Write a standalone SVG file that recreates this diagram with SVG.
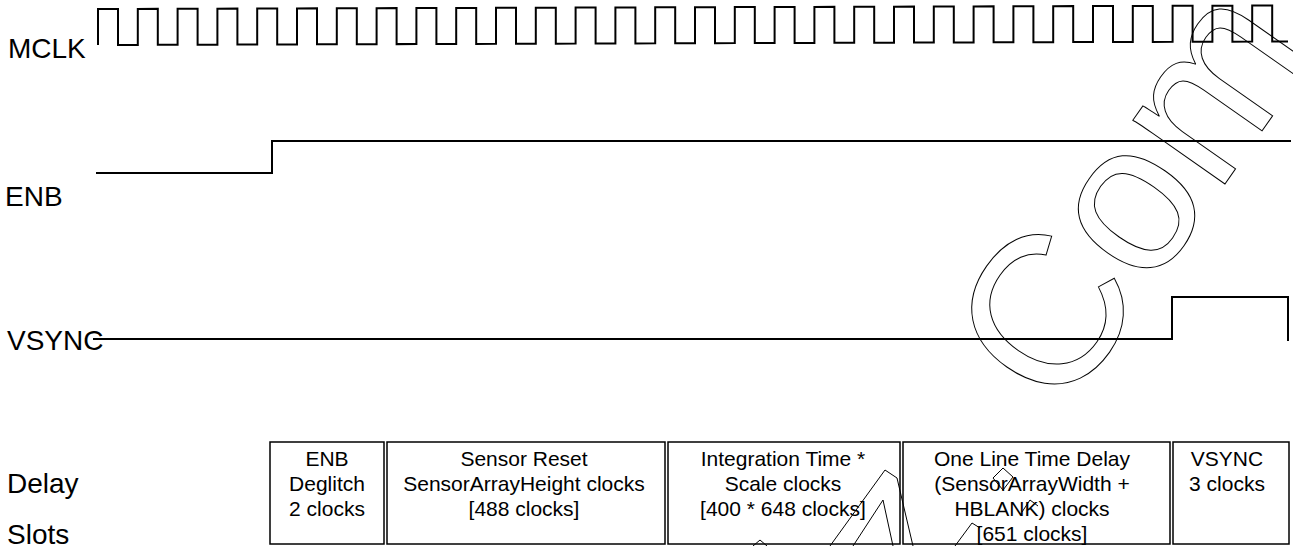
<svg xmlns="http://www.w3.org/2000/svg" width="1293" height="546" viewBox="0 0 1293 546">
<style>
.lbl{font-family:"Liberation Sans",Arial,sans-serif;font-size:28px;fill:#000}
.cell{font-family:"Liberation Sans",Arial,sans-serif;font-size:21px;fill:#000;text-anchor:middle}
.sig{fill:none;stroke:#000;stroke-width:2}
.box{fill:none;stroke:#000;stroke-width:1.5}
.wm{font-family:"Liberation Sans",Arial,sans-serif;fill:none;stroke:#000;stroke-width:1}
.frag{fill:none;stroke:#000;stroke-width:1;stroke-linejoin:miter}
</style>
<rect width="1293" height="546" fill="#fff"/>
<g id="watermark">
<text class="wm" font-size="212" transform="translate(1061,418) rotate(-55)">Com</text>
<polyline class="frag" points="753,546 760,540 767,546"/>
<polyline class="frag" points="830,546 885,470 897,478 913,546"/>
<polyline class="frag" points="853,546 883,500 893,546"/>
<polygon class="frag" points="993,478 1003,468 1013,477 1003,490"/>
<polyline class="frag" points="955,546 972,523 980,528"/>
<polyline class="frag" points="1022,512 1030,500 1038,506"/>
</g>
<g id="labels">
<text class="lbl" x="8" y="58">MCLK</text>
<text class="lbl" x="5" y="206">ENB</text>
<text class="lbl" x="7" y="350">VSYNC</text>
<text class="lbl" x="7" y="493">Delay</text>
<text class="lbl" x="7" y="544">Slots</text>
</g>
<g id="connectors">
<path id="mclk" class="sig" transform="skewY(-0.17)" d="M98,45.3V9.3h20V45.3h19.8V9.3h20V45.3h19.8V9.3h20V45.3h19.8V9.3h20V45.3h19.8V9.3h20V45.3h19.8V9.3h20V45.3h19.8V9.3h20V45.3h19.8V9.3h20V45.3h19.8V9.3h20V45.3h19.8V9.3h20V45.3h19.8V9.3h20V45.3h19.8V9.3h20V45.3h19.8V9.3h20V45.3h19.8V9.3h20V45.3h19.8V9.3h20V45.3h19.8V9.3h20V45.3h19.8V9.3h20V45.3h19.8V9.3h20V45.3h19.8V9.3h20V45.3h19.8V9.3h20V45.3h19.8V9.3h20V45.3h19.8V9.3h20V45.3h19.8V9.3h20V45.3h19.8V9.3h20V45.3h19.8V9.3h20V45.3h19.8V9.3h20V45.3h19.8V9.3h20V45.3h19.8V9.3h20V45.3h19.8V9.3h20V45.3h19.8V9.3h20V45.3h15.8"/>
<path id="enb" class="sig" d="M96,173H272V141H1291"/>
<path id="vsync" class="sig" d="M93,339H1172V297H1288V341"/>
</g>
<g id="slot-enb">
<rect class="box" x="270" y="442" width="114" height="102"/>
<text class="cell" x="327" y="466">ENB</text>
<text class="cell" x="327" y="491">Deglitch</text>
<text class="cell" x="327" y="516">2 clocks</text>
</g>
<g id="slot-reset">
<rect class="box" x="387" y="442" width="278" height="102"/>
<text class="cell" x="524" y="466">Sensor Reset</text>
<text class="cell" x="524" y="491">SensorArrayHeight clocks</text>
<text class="cell" x="524" y="516">[488 clocks]</text>
</g>
<g id="slot-integration">
<rect class="box" x="668" y="442" width="232" height="102"/>
<text class="cell" x="783" y="466">Integration Time *</text>
<text class="cell" x="783" y="491">Scale clocks</text>
<text class="cell" x="783" y="516">[400 * 648 clocks]</text>
</g>
<g id="slot-line">
<rect class="box" x="903" y="442" width="267" height="102"/>
<text class="cell" x="1032" y="466">One Line Time Delay</text>
<text class="cell" x="1032" y="491">(SensorArrayWidth +</text>
<text class="cell" x="1032" y="516">HBLANK) clocks</text>
<text class="cell" x="1032" y="541">[651 clocks]</text>
</g>
<g id="slot-vsync">
<rect class="box" x="1173" y="442" width="116" height="102"/>
<text class="cell" x="1227" y="466">VSYNC</text>
<text class="cell" x="1227" y="491">3 clocks</text>
</g>
</svg>
